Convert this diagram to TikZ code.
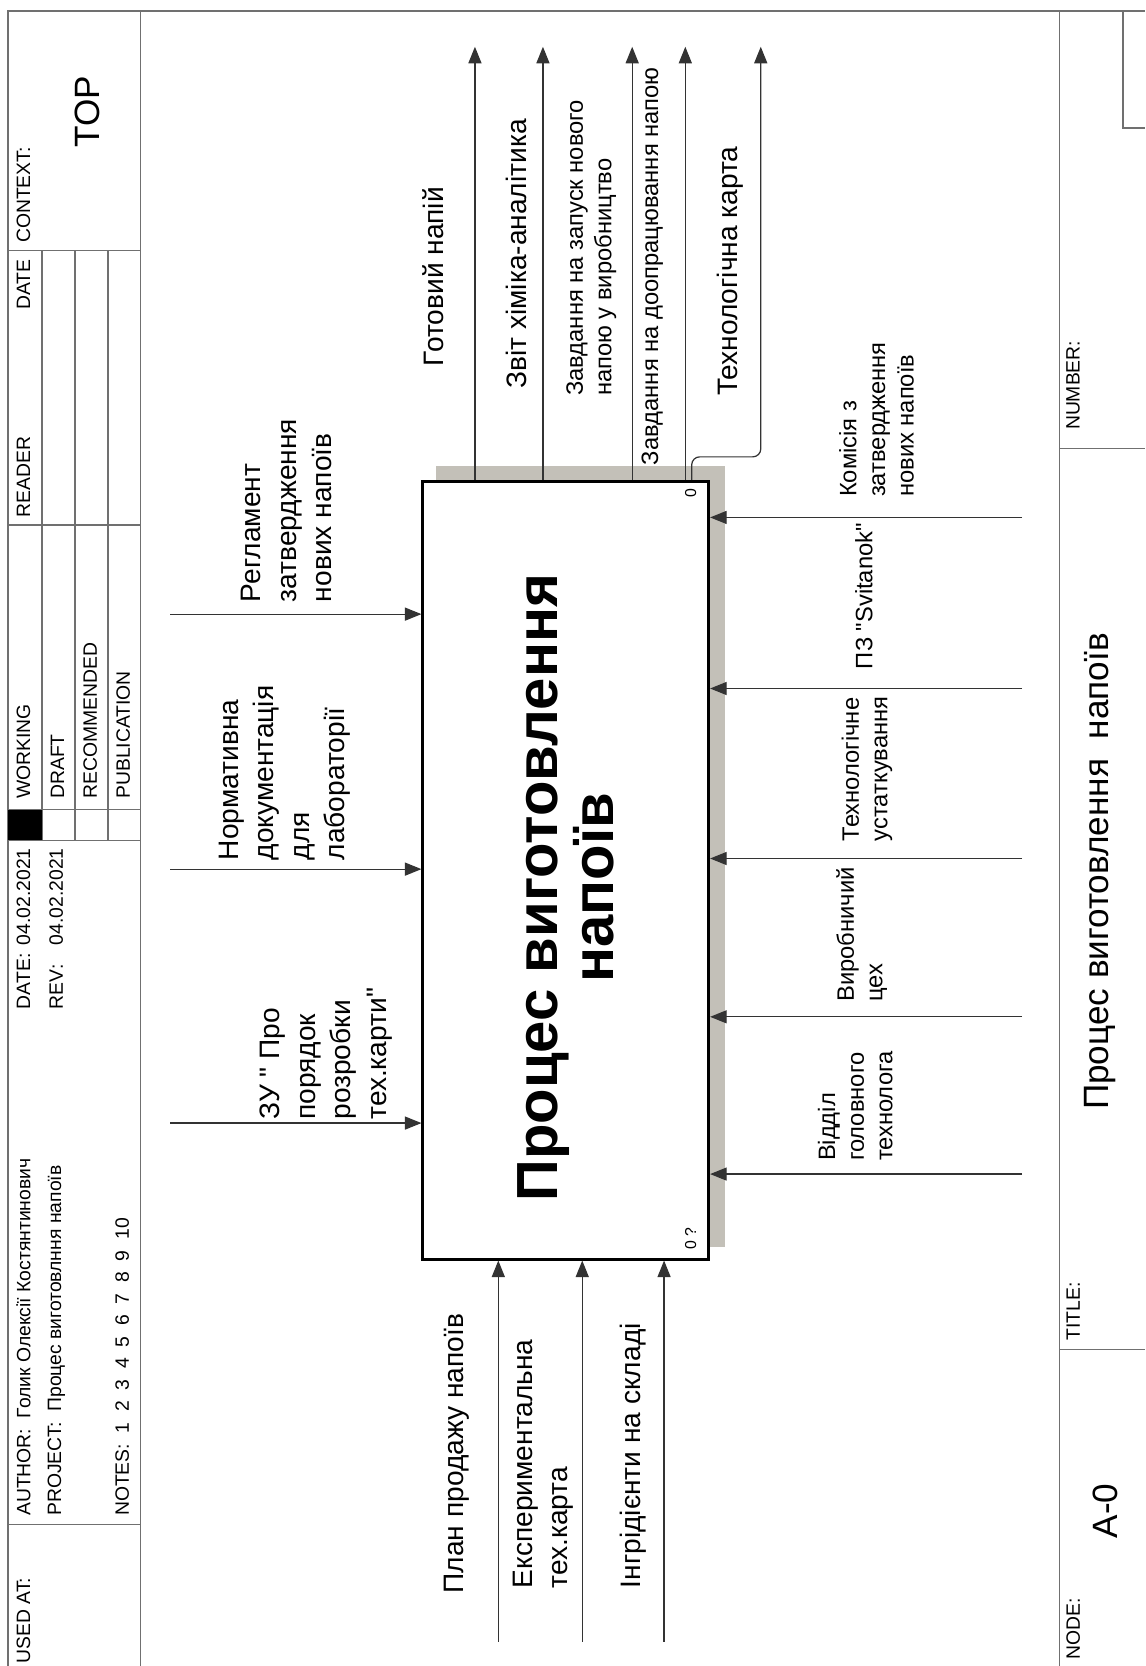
\documentclass[tikz,border=0pt]{standalone}
\usepackage{fontspec}
\setmainfont{Liberation Sans}
\usetikzlibrary{arrows.meta,backgrounds}
\definecolor{Wire}{HTML}{333333}
\definecolor{Rule}{HTML}{707070}
\definecolor{Shade}{HTML}{C3C0B8}
\newcommand{\fs}[2]{\fontsize{#1}{#2}\selectfont}
\newcommand{\qq}{\textquotedbl}
\tikzset{
  frameline/.style={draw=Rule, line width=0.8pt},
  fnbox/.style={draw=black, line width=1.6pt, fill=white, rotate=90,
    align=center, inner sep=0pt, font=\bfseries\fs{33}{31.5}},
  arr/.style={draw=Wire, line width=0.7pt, -{Triangle[length=3.3mm,width=2.6mm]}},
  lbl/.style={rotate=90, anchor=west, inner sep=0pt, align=left, font=\fs{16}{20.2}},
  smlbl/.style={lbl, font=\fs{13.5}{16.3}},
  hdr/.style={rotate=90, anchor=west, inner sep=0pt, font=\fs{11}{13}},
}

\begin{document}
\begin{tikzpicture}[x=0.021243cm, y=-0.021243cm]
  \useasboundingbox (0,0) rectangle (1078,1568);

  % form frame
  \draw[frameline] (7.5,1568) -- (7.5,10.4) -- (1078,10.4);
  \draw[frameline] (132,10.4) -- (132,1568);
  \draw[frameline] (997,10.4) -- (997,1568);
  \draw[frameline] (7.5,236) -- (132,236);
  \draw[frameline] (7.5,494) -- (132,494);
  \draw[frameline] (7.5,762) -- (132,762);
  \draw[frameline] (7.5,791) -- (132,791);
  \draw[frameline] (7.5,1435) -- (132,1435);
  \draw[frameline] (39.5,236) -- (39.5,791);
  \draw[frameline] (70.6,236) -- (70.6,791);
  \draw[frameline] (101.7,236) -- (101.7,791);
  \fill (7.5,762) rectangle (39.5,791);
  \draw[frameline] (997,422) -- (1078,422);
  \draw[frameline] (997,1270) -- (1078,1270);
  \draw[frameline] (1057,10.4) -- (1057,120.5) -- (1078,120.5);

  \node[hdr] (usedat) at (22,1566) {USED AT:};
  \node[hdr] (author) at (22,1427) {AUTHOR:\ \ Голик Олексії Костянтинович};
  \node[hdr] (project) at (53,1427) {PROJECT:\ \ Процес виготовлння напоїв};
  \node[hdr] (notes) at (115,1427) {NOTES:\ \ 1\ \ 2\ \ 3\ \ 4\ \ 5\ \ 6\ \ 7\ \ 8\ \ 9\ \ 10};
  \node[hdr] (date) at (22,950) {\makebox[3.3em][l]{DATE:}04.02.2021};
  \node[hdr] (rev) at (53,950) {\makebox[3.3em][l]{REV:}04.02.2021};
  \node[hdr] (working) at (22,752) {WORKING};
  \node[hdr] (draft) at (54,752) {DRAFT};
  \node[hdr] (recomm) at (85,752) {RECOMMENDED};
  \node[hdr] (publ) at (116,752) {PUBLICATION};
  \node[hdr] (reader) at (22,487) {READER};
  \node[hdr, anchor=east] (rdate) at (22,244) {DATE};
  \node[hdr] (context) at (22,229) {CONTEXT:};
  \node[hdr, anchor=center, font=\fs{20}{24}] (top) at (82,105) {TOP};
  \node[hdr] (numlbl) at (1010,405) {NUMBER:};
  \node[hdr] (titlelbl) at (1010,1262) {TITLE:};
  \node[hdr] (nodelbl) at (1010,1562) {NODE:};
  \node[hdr, anchor=center, font=\fs{20}{24}] (nodeno) at (1040,1422) {A-0};
  \node[hdr, font=\fs{20}{24}] (title) at (1035,1045) {Процес виготовлення\ \ напоїв};

  % activity box
  \node[fnbox, minimum width=15.55cm, minimum height=5.714cm] (fn) at (532.5,819)
    {Процес виготовлення\hspace*{20pt}\\напоїв\hspace*{20pt}};
  \begin{scope}[on background layer]
    \fill[Shade] ([shift={(14,-13)}]fn.north west) rectangle ([shift={(14,-13)}]fn.south east);
  \end{scope}
  \node[hdr, anchor=center, font=\fs{9}{10}] (fnnum) at (650,464) {0};
  \node[hdr, anchor=center, font=\fs{9}{10}] (fnq) at (650,1166) {0 ?};

  % controls
  \coordinate (c1) at (160,578);
  \coordinate (c2) at (160,818);
  \coordinate (c3) at (160,1057);
  \draw[arr] (c1) -- (c1 -| fn.north);
  \draw[arr] (c2) -- (c2 -| fn.north);
  \draw[arr] (c3) -- (c3 -| fn.north);
  \node[lbl] (reg) at (270,567) {Регламент\\затвердження\\нових напоїв};
  \node[lbl] (norm) at (268,810) {Нормативна\\документація\\для\\лабораторії};
  \node[lbl] (zu) at (307,1054) {ЗУ \qq{} Про\\порядок\\розробки\\тех.карти\qq};

  % inputs
  \coordinate (i1) at (469,1545);
  \coordinate (i2) at (548,1545);
  \coordinate (i3) at (625,1545);
  \draw[arr] (i1) -- (i1 |- fn.west);
  \draw[arr] (i2) -- (i2 |- fn.west);
  \draw[arr] (i3) -- (i3 |- fn.west);
  \node[lbl] (plan) at (430,1500) {План продажу напоїв};
  \node[lbl] (exp) at (511.5,1495) {Експериментальна\\тех.карта};
  \node[lbl] (ingr) at (596,1495) {Інгрідієнти на складі};

  % outputs
  \coordinate (o1) at (447,44);
  \coordinate (o2) at (511,44);
  \coordinate (o3) at (595,44);
  \coordinate (o4) at (645,44);
  \coordinate (o5) at (716,44);
  \coordinate (bend) at (651,430);
  \draw[arr] (o1 |- fn.east) -- (o1);
  \draw[arr] (o2 |- fn.east) -- (o2);
  \draw[arr] (o3 |- fn.east) -- (o3);
  \draw[arr] (o4 |- fn.east) -- (o4);
  \draw[arr, rounded corners=1.6mm] (bend |- fn.east) -- (bend) -| (o5);
  \node[lbl] (ready) at (408,345) {Готовий напій};
  \node[lbl] (report) at (486,366) {Звіт хіміка-аналітика};
  \node[smlbl] (launch) at (556.5,373) {Завдання на запуск нового\\напою у виробництво};
  \node[smlbl] (rework) at (614,438) {Завдання на доопрацювання напою};
  \node[lbl] (techcard) at (687,373) {Технологічна карта};

  % mechanisms
  \coordinate (m1) at (962,487);
  \coordinate (m2) at (962,648);
  \coordinate (m3) at (962,808);
  \coordinate (m4) at (962,957);
  \coordinate (m5) at (962,1105);
  \draw[arr] (m1) -- (m1 -| fn.south);
  \draw[arr] (m2) -- (m2 -| fn.south);
  \draw[arr] (m3) -- (m3 -| fn.south);
  \draw[arr] (m4) -- (m4 -| fn.south);
  \draw[arr] (m5) -- (m5 -| fn.south);
  \node[smlbl] (comm) at (825,468) {Комісія з\\затвердження\\нових напоїв};
  \node[smlbl] (pz) at (813,630) {ПЗ \qq Svitanok\qq};
  \node[smlbl] (equip) at (816,792) {Технологічне\\устаткування};
  \node[smlbl] (shop) at (811,943) {Виробничий\\цех};
  \node[smlbl] (dept) at (805,1093) {Відділ\\головного\\технолога};
\end{tikzpicture}
\end{document}
